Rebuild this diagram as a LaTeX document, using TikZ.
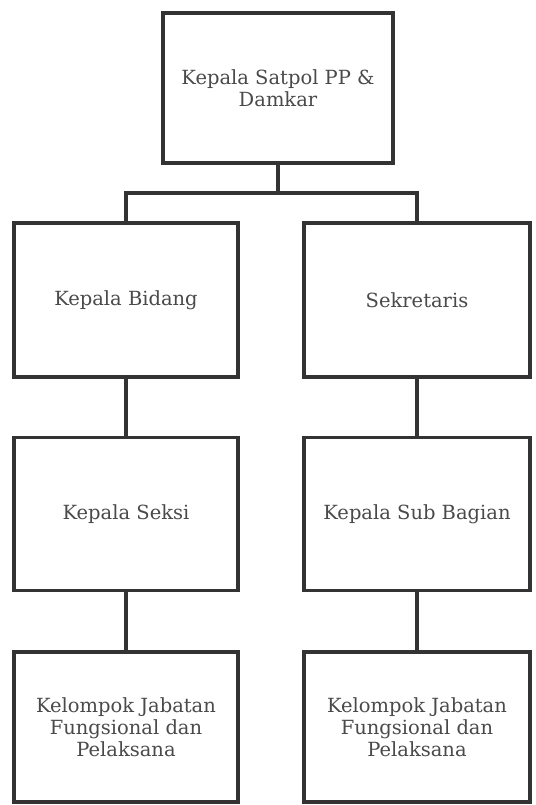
\documentclass[tikz,border=0pt]{standalone}
\usepackage{fontspec}
\setmainfont{DejaVu Serif}
\definecolor{tinta}{HTML}{333333}
\definecolor{huruf}{HTML}{4A4A4A}
\tikzset{
  jabatan/.style={draw=tinta, line width=3.5pt, fill=white, align=center,
    text=huruf, font=\fontsize{19.5}{22}\selectfont, inner sep=0pt},
  garis/.style={draw=tinta, line width=3.5pt}
}
\begin{document}
\begin{tikzpicture}[x=1pt,y=-1pt]
                \useasboundingbox (0,0) rectangle (535,805);
                \node[jabatan, minimum width=230pt, minimum height=150pt] (kepala) at (278,88) {Kepala Satpol PP \&\\ Damkar};
                \node[jabatan, minimum width=224pt, minimum height=154pt] (bidang) at (126,300) {Kepala Bidang};
                \node[jabatan, minimum width=226pt, minimum height=154pt] (sekretaris) at (417,300) {Sekretaris};
                \node[jabatan, minimum width=224pt, minimum height=153pt] (seksi) at (126,514) {Kepala Seksi};
                \node[jabatan, minimum width=226pt, minimum height=153pt] (subbag) at (417,514) {Kepala Sub Bagian};
                \node[jabatan, minimum width=224pt, minimum height=150pt] (fungsi1) at (126,727) {Kelompok Jabatan\\ Fungsional dan\\ Pelaksana};
                \node[jabatan, minimum width=226pt, minimum height=150pt] (fungsi2) at (417,727) {Kelompok Jabatan\\ Fungsional dan\\ Pelaksana};

                \coordinate (cabang) at (278,193);
                \draw[garis] (kepala.south) -- (cabang);
                \draw[garis] (bidang.north) |- (cabang) -| (sekretaris.north);

                \foreach \from/\to in {bidang/seksi,seksi/fungsi1,sekretaris/subbag,subbag/fungsi2}
                  \draw[garis] (\from) -- (\to);
            \end{tikzpicture}
\end{document}
